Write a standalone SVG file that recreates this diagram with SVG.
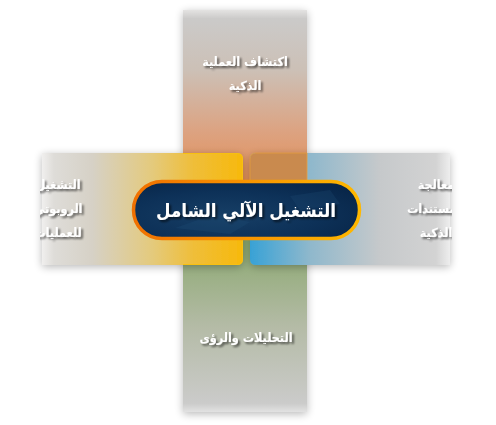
<svg xmlns="http://www.w3.org/2000/svg" width="496" height="425" viewBox="0 0 496 425">
<defs>
<style>
.lbl{font-family:"DejaVu Sans Condensed","DejaVu Sans",sans-serif;font-weight:bold;fill:#ffffff;text-anchor:middle;filter:url(#ts)}
.side{font-size:12.5px}
.main{font-size:18.5px}
</style>
<filter id="sh" x="-20%" y="-20%" width="140%" height="140%">
<feGaussianBlur in="SourceAlpha" stdDeviation="4"/>
<feOffset dx="0" dy="2"/>
<feComponentTransfer><feFuncA type="linear" slope="0.28"/></feComponentTransfer>
<feMerge><feMergeNode/><feMergeNode in="SourceGraphic"/></feMerge>
</filter>
<filter id="ts" x="-20%" y="-30%" width="140%" height="160%">
<feGaussianBlur in="SourceAlpha" stdDeviation="1"/>
<feOffset dx="1.5" dy="2"/>
<feComponentTransfer><feFuncA type="linear" slope="0.6"/></feComponentTransfer>
<feMerge><feMergeNode/><feMergeNode in="SourceGraphic"/></feMerge>
</filter>
<linearGradient id="gTop" x1="0" y1="0" x2="0" y2="1">
<stop offset="0" stop-color="#e4e3e2"/>
<stop offset="0.05" stop-color="#cbcac9"/>
<stop offset="0.35" stop-color="#ccc0b6"/>
<stop offset="0.7" stop-color="#dca382"/>
<stop offset="1" stop-color="#e38f56"/>
</linearGradient>
<linearGradient id="gBot" x1="0" y1="0" x2="0" y2="1">
<stop offset="0" stop-color="#8aa86f"/>
<stop offset="0.5" stop-color="#b4bba6"/>
<stop offset="0.95" stop-color="#cbcbca"/>
<stop offset="1" stop-color="#e2e2e2"/>
</linearGradient>
<linearGradient id="gLeft" x1="42" y1="0" x2="243" y2="0" gradientUnits="userSpaceOnUse">
<stop offset="0" stop-color="#f0efee"/>
<stop offset="0.06" stop-color="#dedcd8"/>
<stop offset="0.25" stop-color="#d6d1c6"/>
<stop offset="0.55" stop-color="#e4ca7c"/>
<stop offset="0.75" stop-color="#efbe3a"/>
<stop offset="1" stop-color="#f7b90c"/>
</linearGradient>
<linearGradient id="gRight" x1="250" y1="0" x2="450" y2="0" gradientUnits="userSpaceOnUse">
<stop offset="0" stop-color="#38a2d6"/>
<stop offset="0.3" stop-color="#8fb8cc"/>
<stop offset="0.65" stop-color="#c6c9cb"/>
<stop offset="0.93" stop-color="#d3d3d3"/>
<stop offset="1" stop-color="#eeeeee"/>
</linearGradient>
<linearGradient id="gRing" x1="0" y1="0" x2="1" y2="0">
<stop offset="0" stop-color="#f07000"/>
<stop offset="1" stop-color="#ffb800"/>
</linearGradient>
<radialGradient id="gPill" cx="0.4" cy="0.6" r="0.7">
<stop offset="0" stop-color="#173f66"/>
<stop offset="0.6" stop-color="#0d3158"/>
<stop offset="1" stop-color="#082649"/>
</radialGradient>
<clipPath id="cLeft"><rect x="40" y="153" width="203" height="112"/></clipPath>
<clipPath id="cRight"><rect x="250" y="153" width="202" height="112"/></clipPath>
</defs>
<rect width="496" height="425" fill="#ffffff"/>

<g id="node-top">
<rect x="183" y="10" width="124" height="172" fill="url(#gTop)" filter="url(#sh)"/>
<text class="lbl side" x="245" y="66">اكتشاف العملية</text>
<text class="lbl side" x="245" y="90">الذكية</text>
</g>

<g id="node-bottom">
<rect x="183" y="240" width="124" height="172" fill="url(#gBot)" filter="url(#sh)"/>
<text class="lbl side" x="246" y="342">التحليلات والرؤى</text>
</g>

<g id="node-right">
<path d="M256,153 H450 V265 H256 Q250,265 250,259 V159 Q250,153 256,153 Z" fill="url(#gRight)" filter="url(#sh)"/>
<path d="M256,153 H307 V182 H250 V159 Q250,153 256,153 Z" fill="#c98a4e" stroke="#e8a040" stroke-width="0.8"/>
<g clip-path="url(#cRight)">
<text class="lbl side" x="436" y="189">معالجة</text>
<text class="lbl side" x="436" y="213">المستندات</text>
<text class="lbl side" x="436" y="237">الذكية</text>
</g>
</g>

<g id="node-left">
<path d="M42,153 H237 Q243,153 243,159 V259 Q243,265 237,265 H42 Z" fill="url(#gLeft)" filter="url(#sh)"/>
<path d="M183,153.5 H237 Q242.5,153.5 242.5,159 V259 Q242.5,264.5 237,264.5 H183" fill="none" stroke="#f8c010" stroke-width="1"/>
<g clip-path="url(#cLeft)">
<text class="lbl side" x="58" y="189">التشغيل</text>
<text class="lbl side" x="58" y="213">الروبوتي</text>
<text class="lbl side" x="58" y="237">للعمليات</text>
</g>
</g>

<g id="connectors"></g>

<g id="node-center">
<rect x="133.5" y="181.5" width="226" height="57" rx="28.5" fill="url(#gPill)" stroke="url(#gRing)" stroke-width="3.5"/>
<path d="M175,228 L215,214 L250,222 L230,234 Z" fill="#1e4a72" opacity="0.35"/>
<path d="M290,196 L330,190 L340,204 L300,210 Z" fill="#1e4a72" opacity="0.3"/>
<text class="lbl main" x="246" y="217">التشغيل الآلي الشامل</text>
</g>
</svg>
